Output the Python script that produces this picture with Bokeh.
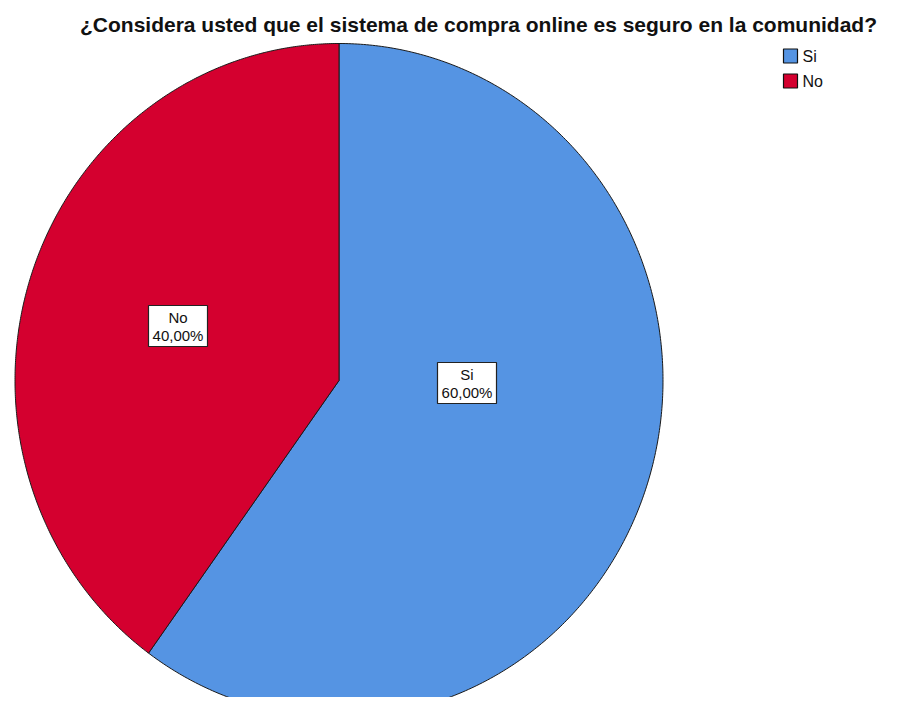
import numpy as np
from bokeh.plotting import figure
from bokeh.models import Range1d, ColumnDataSource
from bokeh.core.properties import value
from bokeh.embed import file_html
from bokeh.resources import INLINE

# ---- data ----
categories = ["Si", "No"]
percentages = [60.0, 40.0]
colors = ["#5594E3", "#D4002F"]
title_text = "¿Considera usted que el sistema de compra online es seguro en la comunidad?"

# ---- layout (pixel-like data coordinates, y downwards) ----
W, H = 896, 697
p = figure(width=W, height=H, output_backend="svg", toolbar_location=None,
           x_range=Range1d(0, W), y_range=Range1d(H, 0),
           min_border=0, outline_line_color=None)
p.axis.visible = False
p.grid.visible = False
p.background_fill_color = "white"
p.border_fill_color = "white"

cx, cy, rx, ry = 338.5, 380.0, 324.0, 337.0

# pie slices (clockwise from top, Si first)
total = sum(percentages)
start = 0.0
xs_list, ys_list = [], []
for v in percentages:
    ang = v / total * 2 * np.pi
    t = np.linspace(start, start + ang, 400)
    xs = np.concatenate([[cx], cx + rx * np.sin(t), [cx]])
    ys = np.concatenate([[cy], cy - ry * np.cos(t), [cy]])
    xs_list.append(list(xs))
    ys_list.append(list(ys))
    start += ang

p.patches(xs_list, ys_list, fill_color=colors, line_color="#1a1a1a", line_width=1.0)

# labels
label_pos = {"Si": (466.5, 382.5), "No": (177.5, 325.5)}
font = value("Liberation Sans")
for cat, pct in zip(categories, percentages):
    lx, ly = label_pos[cat]
    p.rect(x=[lx], y=[ly], width=59, height=41, fill_color="white",
           line_color="#222222", line_width=1.2)
    p.text(x=[lx], y=[ly - 8.5], text=[cat], text_font=font, text_font_size="15px",
           text_align="center", text_baseline="middle", text_color="#111111")
    pct_txt = ("%.2f" % pct).replace(".", ",") + "%"
    p.text(x=[lx], y=[ly + 9], text=[pct_txt], text_font=font, text_font_size="15px",
           text_align="center", text_baseline="middle", text_color="#111111")

# title
p.text(x=[478], y=[24], text=[title_text], text_font=font, text_font_size="21px",
       text_font_style="bold", text_align="center", text_baseline="middle",
       text_color="#111111")

# legend
leg_y = [55.5, 80.5]
src = ColumnDataSource(dict(x=[790] * 2, y=leg_y, c=colors, t=categories))
p.rect(x="x", y="y", width=14, height=14, fill_color="c", line_color="#111111",
       line_width=1.2, source=src)
p.text(x=[802] * 2, y=leg_y, text=categories, text_font=font, text_font_size="16px",
       text_align="left", text_baseline="middle", text_color="#111111")

open("out.html", "w").write(file_html(p, INLINE))
